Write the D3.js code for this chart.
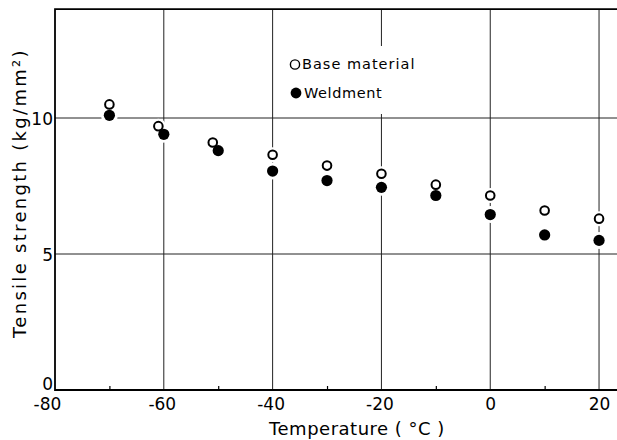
<!DOCTYPE html>
<html>
<head>
<meta charset="utf-8">
<script src="https://cdn.jsdelivr.net/npm/d3@7/dist/d3.min.js"></script>
<style>
  html, body { margin: 0; padding: 0; background: #fff; }
  svg { display: block; }
  text { font-family: "DejaVu Sans", sans-serif; fill: #000; }
</style>
</head>
<body>
<svg id="chart" width="617" height="440"></svg>
<script>
// Tensile strength vs. temperature, base material and weldment
const baseTemp  = [-70, -61, -51, -40, -30, -20, -10, 0, 10, 20];
const baseValue = [10.5, 9.7, 9.1, 8.65, 8.25, 7.95, 7.55, 7.15, 6.6, 6.3];
const weldTemp  = [-70, -60, -50, -40, -30, -20, -10, 0, 10, 20];
const weldValue = [10.1, 9.4, 8.8, 8.05, 7.7, 7.45, 7.15, 6.45, 5.7, 5.5];

const xMajorTicks = [-80, -60, -40, -20, 0, 20];
const xMinorTicks = [-70, -50, -30, -10, 10];
const yTicks = [0, 5, 10];
const seriesNames = ["Base material", "Weldment"];

const svg = d3.select("#chart");
const plotLeft = 55, plotRight = 617, plotTop = 9.2, plotBottom = 390;

const x = d3.scaleLinear().domain([-80, 23.3]).range([plotLeft, plotRight]);
const y = d3.scaleLinear().domain([0, 14]).range([plotBottom, plotTop]);

// grid lines
const grid = svg.append("g").attr("stroke", "#222").attr("stroke-width", 1);
grid.selectAll("line.v").data(xMajorTicks.filter(d => d > -80)).join("line")
  .attr("class", "v")
  .attr("x1", d => x(d)).attr("x2", d => x(d))
  .attr("y1", y(14)).attr("y2", y(0));
grid.selectAll("line.h").data(yTicks.filter(d => d > 0)).join("line")
  .attr("class", "h")
  .attr("x1", x(-80)).attr("x2", plotRight)
  .attr("y1", d => y(d)).attr("y2", d => y(d));

// minor ticks along the bottom edge
svg.append("g")
  .attr("transform", `translate(0,${plotBottom})`)
  .call(d3.axisBottom(x).tickValues(xMinorTicks).tickSize(-4).tickFormat(""))
  .call(g => g.select(".domain").remove())
  .call(g => g.selectAll(".tick line").attr("stroke", "#000").attr("stroke-width", 1.2));

// frame: left, bottom and top edges
svg.append("path")
  .attr("d", `M${plotRight},${y(14)}H${x(-80)}V${y(0)}H${plotRight}`)
  .attr("fill", "none").attr("stroke", "#000").attr("stroke-width", 1.8);

// x tick labels (plain hyphen for negatives)
svg.append("g")
  .attr("transform", `translate(0,${plotBottom})`)
  .call(d3.axisBottom(x).tickValues(xMajorTicks).tickSize(0).tickPadding(8).tickFormat(d => String(d)))
  .call(g => g.select(".domain").remove())
  .call(g => g.selectAll("text")
    .attr("font-size", 17).attr("font-family", "DejaVu Sans, sans-serif").attr("fill", "#000")
    .attr("dx", d => d === -80 ? -8 : (d < 0 ? -2 : 0)));

// y tick labels
svg.append("g")
  .attr("transform", `translate(${plotLeft},0)`)
  .call(d3.axisLeft(y).tickValues(yTicks).tickSize(0).tickPadding(2))
  .call(g => g.select(".domain").remove())
  .call(g => g.selectAll("text")
    .attr("font-size", 17).attr("font-family", "DejaVu Sans, sans-serif").attr("fill", "#000")
    .attr("dy", d => d === 0 ? "-0.05em" : "0.4em"));

// legend (white panel breaks the grid line behind it)
const legend = svg.append("g");
legend.append("rect").attr("x", 286).attr("y", 46).attr("width", 134).attr("height", 68).attr("fill", "#fff");
legend.append("circle").attr("cx", 295).attr("cy", 64.5).attr("r", 4.6)
  .attr("fill", "#fff").attr("stroke", "#000").attr("stroke-width", 1.4);
legend.append("circle").attr("cx", 296).attr("cy", 93).attr("r", 5.4).attr("fill", "#000");
legend.append("text").attr("x", 302).attr("y", 69).attr("font-size", 14.5)
  .attr("letter-spacing", 1).text(seriesNames[0]);
legend.append("text").attr("x", 304).attr("y", 97.5).attr("font-size", 14.5)
  .attr("letter-spacing", 0.6).text(seriesNames[1]);

// data markers; a white halo clears the grid lines around each one
const base = baseTemp.map((t, i) => ({ t, v: baseValue[i] }));
const weld = weldTemp.map((t, i) => ({ t, v: weldValue[i] }));

svg.append("g").selectAll("circle").data(base).join("circle")
  .attr("cx", d => x(d.t)).attr("cy", d => y(d.v)).attr("r", 7.5)
  .attr("fill", "#fff");
svg.append("g").selectAll("circle").data(weld).join("circle")
  .attr("cx", d => x(d.t)).attr("cy", d => y(d.v)).attr("r", 8.5)
  .attr("fill", "#fff");
svg.append("g").selectAll("circle").data(base).join("circle")
  .attr("cx", d => x(d.t)).attr("cy", d => y(d.v)).attr("r", 4.3)
  .attr("fill", "#fff").attr("stroke", "#000").attr("stroke-width", 2);
svg.append("g").selectAll("circle").data(weld).join("circle")
  .attr("cx", d => x(d.t)).attr("cy", d => y(d.v)).attr("r", 5.6)
  .attr("fill", "#000");

// axis titles
svg.append("text")
  .attr("x", 357).attr("y", 435).attr("text-anchor", "middle")
  .attr("font-size", 18).attr("letter-spacing", 0.5)
  .text("Temperature ( °C )");
svg.append("text")
  .attr("transform", `translate(26,193) rotate(-90)`)
  .attr("text-anchor", "middle")
  .attr("font-size", 18).attr("letter-spacing", 2.3)
  .text("Tensile strength (kg/mm²)");
</script>
</body>
</html>
